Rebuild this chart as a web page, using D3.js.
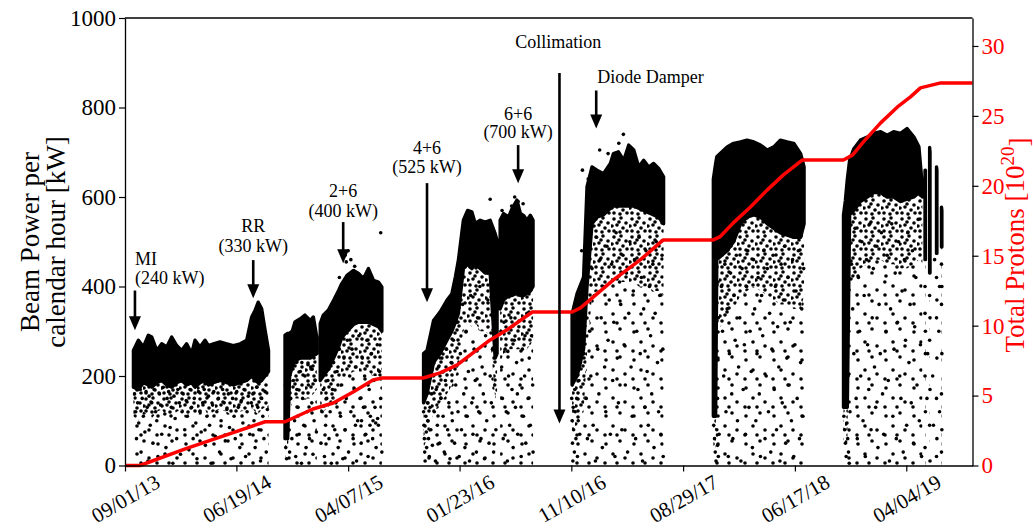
<!DOCTYPE html>
<html lang="en">
<head>
    <meta charset="UTF-8">
    <title>Beam Power per calendar hour</title>
    <script src="https://d3js.org/d3.v7.min.js"></script>
    <style>
        body { margin: 0; background: #fff; }
        text { font-family: "Liberation Serif", "Times New Roman", serif; }
    </style>
</head>
<body>
<div id="chart"></div>
<script>
    // ---- data (days counted from 09/01/13) ----
    let startLabel = "09/01/13";
    let endDay = 2214;
    let tickLabels = ["09/01/13", "06/19/14", "04/07/15", "01/23/16", "11/10/16", "08/29/17", "06/17/18", "04/04/19"];
    let powerTicks = [0, 200, 400, 600, 800, 1000];
    let protonTicks = [0, 5, 10, 15, 20, 25, 30];

    // scatter envelope per run (kW): top of solid part, bottom of solid part,
    // bottom of the thick-dotted part. null = gap between runs
    let bandDay = [22, 35, 48, 61, 70, 83, 96, 109, 122, 135, 148, 161, 174, 183, 196, 209, 218, 231, 248, 266, 283, 301, 318, 331, 340, 348, 357, 366, 375, null,
        418, 425, 430, 437, 444, 458, 470, 484, 492, 501, null,
        510, 518, 531, 545, 558, 566, 580, 597, 610, 623, 636, 649, 662, 671, null,
        780, 789, 806, 823, 841, 854, 863, 871, 884, 895, 906, 915, 928, 941, 954, 967, 972, null,
        980, 989, 1002, 1011, 1024, 1033, 1041, 1050, 1059, 1066, null,
        1168, 1181, 1198, 1207, 1220, 1233, 1250, 1268, 1276, 1289, 1303, 1316, 1329, 1342, 1355, 1368, 1381, 1394, 1407, null,
        1537, 1543, 1546, 1573, 1590, 1608, 1625, 1643, 1660, 1678, 1695, 1712, 1730, 1747, 1765, 1774, null,
        1877, 1882, 1887, 1893, 1904, 1921, 1939, 1956, 1974, 1991, 2008, 2026, 2043, 2061, 2074, 2083, null,
        2090, 2091, null, 2102, 2103, null, 2120, 2121, null, 2133, 2134];
    let bandTop = [257, 280, 265, 291, 287, 257, 272, 265, 287, 268, 257, 272, 250, 280, 265, 280, 268, 272, 276, 272, 268, 272, 280, 332, 347, 365, 350, 302, 257, null,
        291, 295, 296, 300, 321, 328, 336, 324, 332, 287, null,
        317, 336, 347, 369, 391, 406, 425, 436, 429, 418, 440, 414, 410, 399, null,
        250, 257, 324, 343, 369, 384, 421, 459, 548, 570, 567, 541, 548, 544, 548, 518, 503, null,
        548, 563, 555, 574, 593, 563, 559, 548, 559, 548, null,
        339, 384, 421, 623, 667, 660, 652, 675, 697, 701, 682, 716, 705, 667, 682, 667, 675, 664, 645, null,
        640, 675, 690, 712, 720, 723, 727, 723, 716, 705, 712, 727, 723, 720, 697, 667, null,
        560, 593, 640, 682, 708, 727, 734, 742, 746, 738, 746, 742, 753, 734, 712, 623, null,
        660, 660, null, 711, 700, null, 667, 660, null, 577, 570];
    let bandBot = [175, 170, 185, 180, 175, 185, 190, 180, 175, 185, 190, 180, 185, 175, 185, 190, 180, 185, 190, 185, 180, 185, 190, 200, 190, 185, 190, 200, 210, null,
        60, 60, 200, 220, 235, 240, 240, 240, 245, 250, null,
        190, 200, 215, 240, 265, 285, 300, 315, 320, 320, 320, 315, 310, 300, null,
        140, 160, 230, 250, 280, 300, 320, 340, 440, 450, 440, 450, 440, 430, 430, 240, 250, null,
        350, 370, 380, 380, 385, 380, 380, 385, 390, 400, null,
        180, 200, 260, 400, 540, 555, 560, 575, 580, 580, 580, 580, 580, 575, 570, 565, 560, 555, 540, null,
        110, 110, 460, 480, 500, 540, 555, 560, 555, 540, 530, 520, 515, 510, 510, 540, null,
        130, 130, 130, 560, 570, 590, 600, 610, 610, 600, 600, 590, 595, 600, 610, 600, null,
        460, 460, null, 430, 430, null, 474, 474, null, 488, 488];
    let bandMid = [110, 100, 120, 115, 105, 120, 125, 110, 105, 120, 125, 110, 120, 105, 120, 125, 110, 120, 125, 120, 110, 120, 125, 130, 120, 115, 125, 130, 140, null,
        20, 20, 120, 140, 150, 150, 150, 150, 160, 170, null,
        110, 120, 130, 150, 170, 190, 200, 210, 210, 210, 210, 200, 200, 190, null,
        40, 60, 120, 140, 160, 180, 200, 220, 300, 320, 310, 320, 300, 300, 290, 150, 160, null,
        230, 250, 260, 260, 260, 260, 260, 260, 270, 280, null,
        80, 90, 120, 250, 380, 390, 400, 410, 410, 410, 410, 410, 410, 400, 400, 400, 390, 390, 380, null,
        40, 40, 300, 330, 350, 380, 390, 400, 390, 380, 370, 360, 360, 350, 350, 380, null,
        50, 50, 50, 400, 420, 440, 450, 460, 460, 450, 450, 440, 440, 450, 460, 450, null,
        460, 460, null, 430, 430, null, 474, 474, null, 488, 488];

    // scattered points, [day, kW]
    let run1Dots = [[25,160],[28,120],[30,60],[33,140],[36,95],[40,170],[42,30],[45,150],[48,110],[52,75],[55,165],[58,130],[60,10],[63,155],[66,90],[70,140],[73,50],[76,170],[80,120],[83,100],[86,20],[90,160],[93,135],[96,70],[100,175],[104,115],[107,40],[110,150],[114,165],[118,85],[121,130],[125,5],[128,155],[131,105],[135,60],[138,170],[142,140],[145,25],[149,120],[152,160],[156,80],[160,145],[163,110],[167,35],[170,170],[174,130],[178,60],[181,150],[185,95],[188,15],[192,165],[196,120],[199,75],[203,140],[207,170],[210,45],[214,110],[218,155],[221,90],[225,5],[229,135],[232,165],[236,65],[240,120],[244,150],[247,30],[251,100],[255,170],[259,140],[262,55],[266,125],[270,160],[273,85],[277,15],[281,150],[285,110],[288,60],[292,165],[296,130],[300,40],[304,145],[308,95],[311,170],[315,20],[319,120],[322,155],[326,70],[330,140],[334,160],[337,100],[340,40],[344,175],[347,130],[350,80],[354,10],[357,150],[360,110],[363,60],[366,165],[369,30],[372,125]];
    let run2Dots = [[420,40],[422,15],[425,110],[428,80],[430,30],[433,150],[436,60],[440,190],[443,100],[446,20],[449,170],[452,130],[455,70],[458,210],[461,5],[464,150],[467,90],[470,200],[473,40],[476,120],[479,180],[482,60],[485,220],[488,140],[491,25],[494,100],[497,190],[500,75],[419,180],[424,200],[427,140],[431,230],[438,230],[447,230],[462,230],[478,225],[489,215]];
    let run3Dots = [[512,50],[515,120],[518,170],[521,20],[524,90],[527,150],[530,190],[533,60],[536,120],[539,5],[542,170],[545,230],[548,80],[551,140],[554,210],[557,40],[560,260],[563,110],[566,180],[569,15],[572,240],[575,80],[578,150],[581,280],[584,30],[587,200],[590,120],[593,260],[596,60],[599,170],[602,220],[605,10],[608,100],[611,290],[614,150],[617,50],[620,240],[623,130],[626,200],[629,70],[632,280],[635,20],[638,170],[641,110],[644,250],[647,60],[650,190],[653,130],[656,40],[659,270],[662,90],[665,210],[668,150],[671,30],[602,90],[618,100],[640,90],[655,95],[648,100],[660,105],[575,470],[578,455],[583,480],[590,460],[668,520],[600,445],[560,420]];
    let run4Dots = [[780,120],[781,90],[782,60],[783,30],[784,10],[786,110],[787,75],[788,40],[790,140],[791,100],[793,60],[795,20],[797,130],[799,80],[801,160],[803,45],[806,200],[808,120],[811,10],[813,170],[816,90],[819,220],[822,50],[825,150],[828,240],[831,110],[834,30],[837,190],[840,260],[843,80],[846,140],[849,15],[852,230],[855,100],[858,280],[861,50],[864,180],[867,320],[870,120],[873,20],[876,250],[879,80],[882,360],[885,160],[888,40],[891,300],[894,110],[897,210],[900,10],[903,380],[906,140],[909,70],[912,260],[915,190],[918,30],[921,330],[924,120],[927,400],[930,60],[933,220],[936,160],[939,15],[942,290],[945,100],[948,370],[951,50],[954,200],[957,140],[960,260],[963,30],[966,180],[969,80],[954,595]];
    let run5Dots = [[982,300],[984,220],[986,150],[988,60],[990,320],[993,260],[996,120],[999,10],[1002,200],[1005,90],[1008,330],[1011,170],[1014,40],[1017,280],[1020,130],[1023,230],[1026,70],[1029,310],[1032,180],[1035,20],[1038,260],[1041,110],[1044,200],[1047,50],[1050,340],[1053,150],[1056,240],[1059,90],[1062,290],[1065,180],[1066,30],[1000,255],[1025,160],[1045,290],[1018,600],[1027,590],[1010,580],[1030,570],[985,570],[1040,585]];
    let run6Dots = [[1167,150],[1168,100],[1169,50],[1170,10],[1171,130],[1172,80],[1174,30],[1175,170],[1176,120],[1178,60],[1180,150],[1182,20],[1184,100],[1186,190],[1188,70],[1190,230],[1193,480],[1196,350],[1199,250],[1202,420],[1205,150],[1208,60],[1211,500],[1214,300],[1217,200],[1220,440],[1223,90],[1226,380],[1229,10],[1232,510],[1235,260],[1238,160],[1241,460],[1244,330],[1247,40],[1250,400],[1253,220],[1256,120],[1259,490],[1262,280],[1265,370],[1268,70],[1271,450],[1274,190],[1277,320],[1280,20],[1283,520],[1286,240],[1289,140],[1292,410],[1295,360],[1298,80],[1301,470],[1304,270],[1307,180],[1310,430],[1313,30],[1316,340],[1319,500],[1322,220],[1325,110],[1328,390],[1331,460],[1334,60],[1337,300],[1340,170],[1343,510],[1346,250],[1349,420],[1352,10],[1355,350],[1358,130],[1361,480],[1364,210],[1367,90],[1370,400],[1373,290],[1376,160],[1379,450],[1382,40],[1385,340],[1388,500],[1391,230],[1394,120],[1397,380],[1400,70],[1403,470],[1405,260],[1406,20],[1210,640],[1195,660],[1302,740],[1290,720],[1240,705],[1262,697]];
    let run7Dots = [[1538,90],[1540,60],[1542,30],[1544,10],[1546,80],[1548,45],[1550,20],[1552,70],[1558,400],[1561,300],[1564,200],[1567,450],[1570,120],[1573,350],[1576,20],[1579,250],[1582,430],[1585,160],[1588,60],[1591,380],[1594,280],[1597,470],[1600,100],[1603,220],[1606,330],[1609,10],[1612,440],[1615,170],[1618,270],[1621,70],[1624,400],[1627,480],[1630,130],[1633,300],[1636,210],[1639,40],[1642,460],[1645,350],[1648,100],[1651,250],[1654,420],[1657,160],[1660,20],[1663,380],[1666,290],[1669,480],[1672,60],[1675,200],[1678,440],[1681,120],[1684,340],[1687,30],[1690,260],[1693,470],[1696,170],[1699,400],[1702,80],[1705,310],[1708,220],[1711,10],[1714,450],[1717,140],[1720,370],[1723,490],[1726,50],[1729,240],[1732,420],[1735,180],[1738,320],[1741,100],[1744,460],[1747,20],[1750,270],[1753,390],[1756,150],[1759,480],[1762,60],[1765,230],[1768,350],[1771,110],[1773,440],[1548,150],[1549,240],[1550,330],[1549,410]];
    let run8Dots = [[1878,110],[1880,80],[1882,50],[1884,20],[1886,95],[1888,60],[1890,30],[1892,5],[1894,120],[1889,200],[1891,300],[1890,420],[1892,500],[1898,450],[1901,350],[1904,250],[1907,530],[1910,150],[1913,60],[1916,420],[1919,300],[1922,200],[1925,500],[1928,100],[1931,380],[1934,20],[1937,460],[1940,270],[1943,170],[1946,540],[1949,80],[1952,330],[1955,440],[1958,220],[1961,130],[1964,490],[1967,40],[1970,360],[1973,250],[1976,520],[1979,160],[1982,70],[1985,410],[1988,300],[1991,470],[1994,190],[1997,10],[2000,350],[2003,540],[2006,110],[2009,260],[2012,430],[2015,60],[2018,320],[2021,500],[2024,200],[2027,150],[2030,390],[2033,30],[2036,460],[2039,280],[2042,90],[2045,520],[2048,230],[2051,360],[2054,140],[2057,480],[2060,50],[2063,310],[2066,420],[2069,180],[2072,550],[2075,100],[2078,270],[2081,20],[2090,400],[2090,340],[2091,300],[2091,250],[2090,200],[2091,120],[2090,40],[2102,380],[2103,330],[2102,280],[2103,170],[2102,90],[2103,10],[2120,420],[2121,370],[2120,330],[2121,240],[2120,150],[2121,60],[2120,20],[2133,450],[2134,400],[2133,360],[2134,250],[2133,160],[2134,80],[2133,30],[2110,200],[2112,90],[2126,300],[2128,120],[2097,250],[2095,150],[2115,460],[2128,400]];

    // cumulative protons [10^20]
    let protonDay = [0, 39, 161, 366, 418, 491, 544, 596, 648, 672, 779, 823, 868, 909, 954, 998, 1064, 1168, 1190, 1276, 1346, 1406, 1537, 1555, 1589, 1634, 1678, 1720, 1770, 1877, 1901, 1929, 1974, 2018, 2052, 2078, 2131, 2214];
    let protonTotal = [0, 0, 1.23, 3.13, 3.13, 4.04, 4.47, 5.26, 6.12, 6.26, 6.26, 6.62, 7.19, 8.05, 8.98, 9.70, 10.98, 10.98, 11.27, 13.27, 14.70, 16.13, 16.13, 16.37, 17.35, 18.49, 19.71, 20.78, 21.85, 21.85, 22.21, 23.14, 24.5, 25.64, 26.36, 27.0, 27.36, 27.36];

    // annotations
    let annoLine1 = ["MI", "RR", "2+6", "4+6", "6+6", "Collimation", "Diode Damper"];
    let annoLine2 = ["(240 kW)", "(330 kW)", "(400 kW)", "(525 kW)", "(700 kW)", "", ""];
    let annoTextDay = [26, 335, 570, 789, 1027, 1132, 1234];
    let annoTextKW1 = [463, 535, 615, 711, 787, 946, 868];
    let annoTextKW2 = [420, 492, 570, 667, 745, 0, 0];
    let annoArrowDay = [26, 335, 570, 789, 1027, 1135, 1231];
    let annoArrowFrom = [391, 459, 544, 631, 716, 877, 838];
    let annoArrowTo = [302, 374, 452, 365, 631, 94, 753];
    let annoAnchor = ["start", "middle", "middle", "middle", "middle", "middle", "start"];

    // ---- chart ----
    let margin = {top: 18, right: 60.5, bottom: 63.5, left: 125};
    let width = 1033 - margin.left - margin.right;
    let height = 529 - margin.top - margin.bottom;

    let parseDate = d3.utcParse("%m/%d/%y");
    let start = parseDate(startLabel);
    let toDate = function (d) { return d3.utcDay.offset(start, d); };

    let root = d3.select("#chart")
        .append("svg")
        .attr("width", 1033)
        .attr("height", 529);

    // dot textures for the thick and thin parts of the cloud
    let defs = root.append("defs");
    let mediumTile = defs.append("pattern")
        .attr("id", "medium")
        .attr("patternUnits", "userSpaceOnUse")
        .attr("width", 18).attr("height", 18);
    [[3, 3], [10, 2], [15, 7], [6, 9], [12, 12], [3, 15], [9, 16], [16, 15], [8, 6], [1, 10]].forEach(function (p) {
        mediumTile.append("circle").attr("cx", p[0]).attr("cy", p[1]).attr("r", 1.8).attr("fill", "#000");
    });
    let sparseTile = defs.append("pattern")
        .attr("id", "sparse")
        .attr("patternUnits", "userSpaceOnUse")
        .attr("width", 28).attr("height", 28);
    [[5, 6], [19, 3], [12, 16], [24, 20], [4, 25], [16, 25]].forEach(function (p) {
        sparseTile.append("circle").attr("cx", p[0]).attr("cy", p[1]).attr("r", 1.8).attr("fill", "#000");
    });

    let svg = root.append("g")
        .attr("transform", "translate(" + margin.left + "," + margin.top + ")");

    let x = d3.scaleUtc()
        .domain([start, toDate(endDay)])
        .range([0, width]);
    let y = d3.scaleLinear().domain([0, 1000]).range([height, 0]);
    let y2 = d3.scaleLinear().domain([0, 32]).range([height, 0]);

    let bandRows = bandDay.map(function (d, i) {
        return {day: d, top: bandTop[i], bot: bandBot[i], mid: bandMid[i]};
    });
    let defined = function (d) { return d.day !== null; };
    let bx = function (d) { return x(toDate(d.day)); };

    // thin cloud down to zero
    svg.append("path")
        .datum(bandRows)
        .attr("d", d3.area().defined(defined).x(bx)
            .y0(y(0))
            .y1(function (d) { return y(d.mid); }))
        .attr("fill", "url(#sparse)");

    // thick cloud
    svg.append("path")
        .datum(bandRows)
        .attr("d", d3.area().defined(defined).x(bx)
            .y0(function (d) { return y(d.mid); })
            .y1(function (d) { return y(d.bot); }))
        .attr("fill", "url(#medium)");

    // solid band
    svg.append("path")
        .datum(bandRows)
        .attr("d", d3.area().defined(defined).x(bx)
            .y0(function (d) { return y(d.bot); })
            .y1(function (d) { return y(d.top); }))
        .attr("fill", "#000")
        .attr("stroke", "#000")
        .attr("stroke-width", 3.4)
        .attr("stroke-linejoin", "round");

    // dots
    let dots = [].concat(run1Dots, run2Dots, run3Dots, run4Dots, run5Dots, run6Dots, run7Dots, run8Dots);
    svg.append("g")
        .selectAll("circle")
        .data(dots)
        .enter()
        .append("circle")
        .attr("cx", function (d) { return x(toDate(d[0])); })
        .attr("cy", function (d) { return y(d[1]); })
        .attr("r", 1.8)
        .attr("fill", "#000");

    // total protons
    let protonRows = protonDay.map(function (d, i) { return {day: d, v: protonTotal[i]}; });
    svg.append("path")
        .datum(protonRows)
        .attr("d", d3.line()
            .x(function (d) { return x(toDate(d.day)); })
            .y(function (d) { return y2(d.v); }))
        .attr("fill", "none")
        .attr("stroke", "#ff0000")
        .attr("stroke-width", 3.5)
        .attr("stroke-linejoin", "round");

    // annotations
    let anno = svg.append("g");
    annoLine1.forEach(function (t, i) {
        let tx = x(toDate(annoTextDay[i]));
        anno.append("text")
            .attr("x", tx)
            .attr("y", y(annoTextKW1[i]))
            .attr("dy", "0.35em")
            .attr("text-anchor", annoAnchor[i])
            .style("font-size", "18px")
            .text(t);
        if (annoLine2[i] !== "") {
            anno.append("text")
                .attr("x", tx)
                .attr("y", y(annoTextKW2[i]))
                .attr("dy", "0.35em")
                .attr("text-anchor", annoAnchor[i])
                .style("font-size", "18px")
                .text(annoLine2[i]);
        }
        let ax = x(toDate(annoArrowDay[i]));
        let y0 = y(annoArrowFrom[i]);
        let y1 = y(annoArrowTo[i]);
        anno.append("line")
            .attr("x1", ax).attr("x2", ax)
            .attr("y1", y0).attr("y2", y1 - 12)
            .attr("stroke", "#000")
            .attr("stroke-width", 2.6);
        anno.append("path")
            .attr("d", "M" + (ax - 6) + "," + (y1 - 14) + "L" + (ax + 6) + "," + (y1 - 14) + "L" + ax + "," + y1 + "Z")
            .attr("fill", "#000");
    });

    // axes
    let xAxis = svg.append("g")
        .attr("transform", "translate(0," + height + ")")
        .call(d3.axisBottom(x)
            .tickValues(tickLabels.map(parseDate))
            .tickFormat(d3.utcFormat("%m/%d/%y"))
            .tickSize(6)
            .tickSizeOuter(0));
    xAxis.selectAll("text")
        .attr("y", 0)
        .attr("dy", "0.35em")
        .attr("text-anchor", "middle")
        .attr("transform", "translate(0,33) rotate(-30)")
        .style("font-size", "21px")
        .attr("fill", "#000");

    let yAxis = svg.append("g")
        .call(d3.axisLeft(y).tickValues(powerTicks).tickFormat(d3.format("d"))
            .tickSize(6).tickPadding(3).tickSizeOuter(0));
    yAxis.selectAll("text").style("font-size", "23px").attr("fill", "#000");

    let y2Axis = svg.append("g")
        .attr("transform", "translate(" + width + ",0)")
        .call(d3.axisRight(y2).tickValues(protonTicks).tickSize(6).tickPadding(3).tickSizeOuter(0));
    y2Axis.selectAll("text").style("font-size", "23px").attr("fill", "#ff0000");

    svg.selectAll(".domain").attr("stroke", "#000").attr("stroke-width", 1.3);
    svg.selectAll(".tick line").attr("stroke", "#000").attr("stroke-width", 1.2);

    // frame top
    svg.append("line")
        .attr("x1", 0).attr("x2", width)
        .attr("y1", 0).attr("y2", 0)
        .attr("stroke", "#000").attr("stroke-width", 1.3);

    // axis titles
    root.append("text")
        .attr("transform", "translate(39,242) rotate(-90)")
        .attr("text-anchor", "middle")
        .style("font-size", "27px")
        .text("Beam Power per");
    root.append("text")
        .attr("transform", "translate(65,242) rotate(-90)")
        .attr("text-anchor", "middle")
        .style("font-size", "27px")
        .text("calendar hour [kW]");

    let y2Title = root.append("text")
        .attr("transform", "translate(1024,245) rotate(-90)")
        .attr("text-anchor", "middle")
        .attr("fill", "#ff0000")
        .style("font-size", "27px");
    y2Title.append("tspan").text("Total Protons [10");
    y2Title.append("tspan").attr("dy", "-0.55em").style("font-size", "19px").text("20");
    y2Title.append("tspan").attr("dy", "0.55em").text("]");
</script>
</body>
</html>
